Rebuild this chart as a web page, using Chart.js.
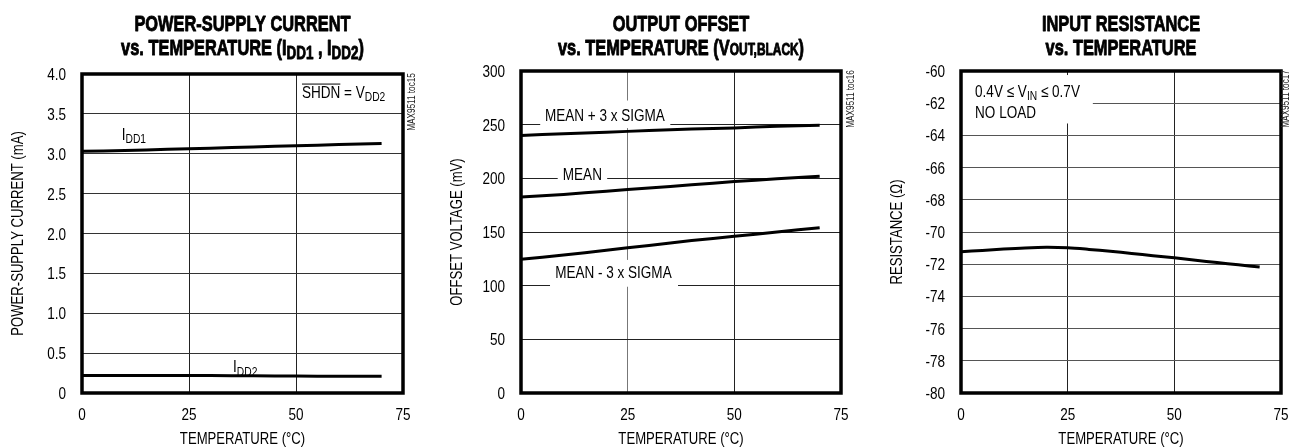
<!DOCTYPE html>
<html><head><meta charset="utf-8">
<script src="https://cdn.jsdelivr.net/npm/chart.js@4.4.1/dist/chart.umd.min.js"></script>
<style>
html,body{margin:0;padding:0;background:#fff;width:1289px;height:448px;overflow:hidden}
.c{position:absolute;top:0;height:448px}
</style></head><body>
<div class="c" style="left:0;width:430px"><canvas id="c1" width="430" height="448"></canvas></div>
<div class="c" style="left:430px;width:430px"><canvas id="c2" width="430" height="448"></canvas></div>
<div class="c" style="left:860px;width:429px"><canvas id="c3" width="429" height="448"></canvas></div>
<script>
// ---- data ----
const tempTicks = [0, 25, 50, 75];
const currTemps = [0, 10, 20, 30, 40, 50, 60, 70];
const idd1 = [3.03, 3.04, 3.055, 3.07, 3.085, 3.10, 3.115, 3.13];
const idd2 = [0.22, 0.22, 0.22, 0.218, 0.215, 0.213, 0.21, 0.21];
const offsetTemps = [0, 10, 20, 30, 40, 50, 60, 70];
const meanPlus3Sigma = [240, 241.5, 243, 244.5, 246, 247, 248.5, 249.5];
const meanOffset = [182.5, 185, 188, 191, 194, 197, 199.5, 202];
const meanMinus3Sigma = [124.5, 128.5, 133, 137.5, 142, 146, 150, 154];
const resTemps = [0, 5, 10, 15, 20, 25, 30, 35, 40, 45, 50, 55, 60, 65, 70];
const resistance = [-71.22, -71.15, -71.06, -70.99, -70.95, -70.98, -71.08, -71.2, -71.33, -71.47, -71.6, -71.75, -71.9, -72.04, -72.17];

const FONT = '"Liberation Sans", Arial, sans-serif';
const SX = 0.82;   // horizontal condensing for a Helvetica-Condensed look

function fnt(size, bold) { return (bold ? 'bold ' : '') + size + 'px ' + FONT; }

// draw condensed text
function txt(ctx, s, x, y, o) {
  const sx = o.sx || SX;
  ctx.save();
  ctx.font = fnt(o.size, o.bold);
  ctx.fillStyle = o.color || '#000';
  ctx.textAlign = o.align || 'left';
  ctx.textBaseline = o.baseline || 'alphabetic';
  ctx.translate(x, y);
  if (o.rot) ctx.rotate(o.rot);
  ctx.scale(sx, 1);
  ctx.fillText(s, 0, 0);
  if (o.stroke) { ctx.strokeStyle = o.color || '#000'; ctx.lineWidth = o.stroke; ctx.lineJoin = 'round'; ctx.strokeText(s, 0, 0); }
  ctx.restore();
}

// rich text: segments [text, kind, deco] kind: n normal, s subscript, c small caps
function drawRich(ctx, segs, x, y, align, size, bold, sx, subSize, stroke) {
  sx = sx || SX; subSize = subSize || Math.round(size * 0.74);
  const sz = k => (k === 'n' ? size : subSize);
  let w = 0;
  segs.forEach(s => { ctx.font = fnt(sz(s[1]), bold); w += ctx.measureText(s[0]).width * sx; });
  let cx = align === 'center' ? x - w / 2 : x;
  segs.forEach(s => {
    ctx.font = fnt(sz(s[1]), bold);
    const mw = ctx.measureText(s[0]).width * sx;
    const dy = s[1] === 's' ? size * 0.2 : 0;
    txt(ctx, s[0], cx, y + dy, { size: sz(s[1]), bold: bold, sx: sx, stroke: stroke });
    if (s[2] === 'over') {
      ctx.save(); ctx.strokeStyle = '#000'; ctx.lineWidth = 1;
      ctx.beginPath(); ctx.moveTo(cx, y - size * 0.84); ctx.lineTo(cx + mw, y - size * 0.84); ctx.stroke(); ctx.restore();
    }
    cx += mw;
  });
}

function makeChart(id, cfg) {
  const decor = {
    id: 'decor' + id,
    beforeDatasetsDraw(chart) {
      const ctx = chart.ctx, xs = chart.scales.x, ys = chart.scales.y;
      cfg.notes.forEach(n => {
        if (n.box) {
          const bx0 = xs.getPixelForValue(n.box[0]), bx1 = xs.getPixelForValue(n.box[2]);
          const by0 = ys.getPixelForValue(n.box[1]), by1 = ys.getPixelForValue(n.box[3]);
          ctx.save(); ctx.fillStyle = '#fff';
          ctx.fillRect(Math.min(bx0, bx1), Math.min(by0, by1), Math.abs(bx1 - bx0), Math.abs(by1 - by0));
          ctx.restore();
        }
        const px = xs.getPixelForValue(n.x);
        let py = ys.getPixelForValue(n.y);
        n.lines.forEach(l => { drawRich(ctx, l, px, py, 'left', 16.5, false, SX, 12.5); py += n.gap || 0; });
      });
    },
    afterDraw(chart) {
      const ctx = chart.ctx, a = chart.chartArea, xs = chart.scales.x, ys = chart.scales.y;
      ctx.save();
      ctx.strokeStyle = '#000'; ctx.lineWidth = 3.5;
      ctx.strokeRect(a.left, a.top, a.right - a.left, a.bottom - a.top);
      ctx.restore();
      // tick labels from the library's scales
      ys.ticks.forEach(t => {
        txt(ctx, cfg.fmt(t.value), a.left - 16, ys.getPixelForValue(t.value) + 1.5, { size: 16.5, align: 'right', baseline: 'middle' });
      });
      xs.ticks.forEach(t => {
        txt(ctx, String(t.value), xs.getPixelForValue(t.value), a.bottom + 22, { size: 16.5, align: 'center', baseline: 'middle' });
      });
      // axis titles
      txt(ctx, 'TEMPERATURE (°C)', (a.left + a.right) / 2, 440, { size: 16, align: 'center', baseline: 'middle' });
      txt(ctx, cfg.ytitle, a.left - 63.5, (a.top + a.bottom) / 2, { size: 16, align: 'center', baseline: 'middle', rot: -Math.PI / 2 });
      // titles
      const cx = (a.left + a.right) / 2;
      drawRich(ctx, cfg.title[0], cx, 31, 'center', 22, true, 0.745, 16, 0.9);
      drawRich(ctx, cfg.title[1], cx, 55, 'center', 22, true, 0.745, cfg.titleSub || 16, 0.9);
      // watermark
      txt(ctx, cfg.mark, a.right + cfg.markOff, a.top + 28, { size: 10, align: 'center', baseline: 'middle', rot: -Math.PI / 2, color: '#222' });
    }
  };
  return new Chart(document.getElementById(id), {
    type: 'line',
    data: { datasets: cfg.datasets.map(d => ({
      data: d.x.map((t, i) => ({ x: t, y: d.y[i] })),
      borderColor: '#000', borderWidth: 3, pointRadius: 0, tension: 0.3, fill: false
    })) },
    options: {
      responsive: false, animation: false,
      layout: { padding: { left: 0, right: cfg.padRight, top: cfg.padTop, bottom: 0 } },
      plugins: { legend: { display: false }, tooltip: { enabled: false } },
      scales: {
        x: {
          type: 'linear', min: 0, max: 75,
          afterBuildTicks: s => { s.ticks = tempTicks.map(v => ({ value: v })); },
          afterFit: s => { s.height = 55; },
          ticks: { display: false },
          grid: { drawTicks: false, color: cfg.vgrid, lineWidth: 1 },
          border: { display: false }
        },
        y: {
          min: cfg.ymin, max: cfg.ymax,
          ticks: { display: false, stepSize: cfg.ystep },
          afterFit: s => { s.width = cfg.yw; },
          grid: { drawTicks: false, color: cfg.hgrid, lineWidth: 1 },
          border: { display: false }
        }
      }
    },
    plugins: [decor]
  });
}

makeChart('c1', {
  title: [[['POWER-SUPPLY CURRENT', 'n']], [['vs. TEMPERATURE (I', 'n'], ['DD1', 's'], [' , I', 'n'], ['DD2', 's'], [')', 'n']]],
  titleSub: 18,
  mark: 'MAX9511 toc15', markOff: 9.5,
  datasets: [{ x: currTemps, y: idd1 }, { x: currTemps, y: idd2 }],
  ymin: 0, ymax: 4, ystep: 0.5, fmt: v => v === 0 ? '0' : v.toFixed(1),
  ytitle: 'POWER-SUPPLY CURRENT (mA)', yw: 82, padRight: 27, padTop: 74,
  hgrid: '#333', vgrid: '#222',
  notes: [
    { x: 9.3, y: 3.17, lines: [[['I', 'n'], ['DD1', 's']]] },
    { x: 51.4, y: 3.70, lines: [[['SHDN', 'n', 'over'], [' = V', 'n'], ['DD2', 's']]] },
    { x: 35.3, y: 0.26, lines: [[['I', 'n'], ['DD2', 's']]] }
  ]
});

makeChart('c2', {
  title: [[['OUTPUT OFFSET', 'n']], [['vs. TEMPERATURE (V', 'n'], ['OUT,BLACK', 'c'], [')', 'n']]],
  mark: 'MAX9511 toc16', markOff: 10,
  datasets: [{ x: offsetTemps, y: meanPlus3Sigma }, { x: offsetTemps, y: meanOffset }, { x: offsetTemps, y: meanMinus3Sigma }],
  ymin: 0, ymax: 300, ystep: 50, fmt: v => String(v),
  ytitle: 'OFFSET VOLTAGE (mV)', yw: 91, padRight: 19, padTop: 71,
  hgrid: '#222', vgrid: c => (c.tick && c.tick.value === 25 ? '#777' : '#222'),
  notes: [
    { x: 5.6, y: 253, box: [4.5, 272.5, 35, 246.8], lines: [[['MEAN + 3 x SIGMA', 'n']]] },
    { x: 9.8, y: 198.4, box: [8.6, 209, 20.2, 196.2], lines: [[['MEAN', 'n']]] },
    { x: 8.0, y: 106.7, box: [6.8, 124, 36.8, 99], lines: [[['MEAN - 3 x SIGMA', 'n']]] }
  ]
});

makeChart('c3', {
  title: [[['INPUT RESISTANCE', 'n']], [['vs. TEMPERATURE', 'n']]],
  mark: 'MAX9511 toc17', markOff: 5,
  datasets: [{ x: resTemps, y: resistance }],
  ymin: -80, ymax: -60, ystep: 2, fmt: v => String(v),
  ytitle: 'RESISTANCE (Ω)', yw: 101, padRight: 8, padTop: 71,
  hgrid: '#555', vgrid: '#222',
  notes: [
    { x: 3.3, y: -61.6, gap: 21, box: [0, -60.25, 30.9, -63.26], lines: [[['0.4V ≤ V', 'n'], ['IN', 's'], [' ≤ 0.7V', 'n']], [['NO LOAD', 'n']]] }
  ]
});
</script>
</body></html>
